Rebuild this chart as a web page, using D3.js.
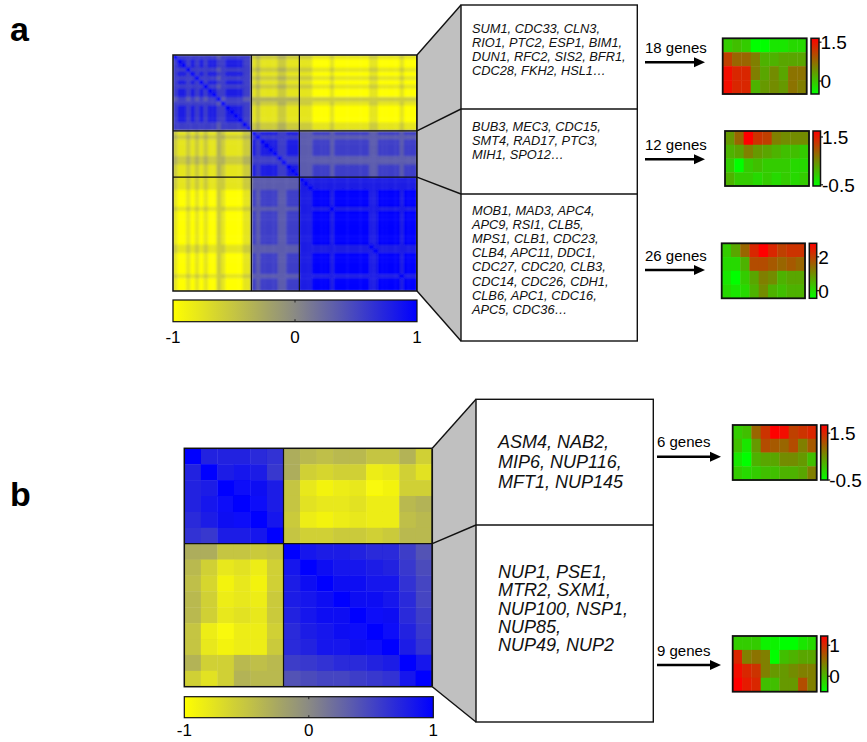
<!DOCTYPE html>
<html>
<head>
<meta charset="utf-8">
<script src="https://cdn.jsdelivr.net/npm/d3@7"></script>
<style>
  body { margin: 0; background: #fff; }
  svg { display: block; font-family: "Liberation Sans", Arial, sans-serif; }
</style>
</head>
<body>
<svg id="fig" width="867" height="742"></svg>
<script>
// ---------------- data ----------------

// panel a: gene-gene correlation map, 56 genes in three clusters.
// lower triangle, one string per row, digit code 0..9 -> -1..1 (spaces only split the clusters)
const corrBlocksA = [18, 11, 27];
const corrRowsA = [
  "",
  "7",
  "78",
  "777",
  "7887",
  "77777",
  "788787",
  "7777777",
  "78878787",
  "788787878",
  "6776767677",
  "77777777776",
  "788787878877",
  "7887878788778",
  "78878787887788",
  "788787878877888",
  "7777777777677777",
  "77777777776777777",
  "211212121132111122",
  "322323232233222233 7",
  "211212121132111122 87",
  "211212121132111122 878",
  "211212121132111122 8788",
  "211212121132111122 87888",
  "322323232233222233 777777",
  "322323232233222233 7777777",
  "211212121132111122 87888877",
  "211212121132111122 878888778",
  "211212121132111122 8788887788",
  "211212121122111122 66666666666",
  "211212121122111122 66666666666 8",
  "211212121122111122 66666666666 88",
  "100101010021000011 76777766777 888",
  "100101010021000011 76777766777 8889",
  "100101010021000011 76777766777 88899",
  "100101010021000011 76777766777 888999",
  "211212121122111122 66666666666 8888888",
  "100101010021000011 76777766777 88899998",
  "100101010021000011 76777766777 888999989",
  "100101010021000011 76777766777 8889999899",
  "100101010021000011 76777766777 88899998999",
  "100101010021000011 76777766777 888999989999",
  "100101010021000011 76777766777 8889999899999",
  "100101010021000011 76777766777 88899998999999",
  "100101010021000011 76777766777 888999989999999",
  "211212121122111122 66666666666 8888888888888888",
  "211212121122111122 66666666666 88888888888888888",
  "100101010021000011 76777766777 888999989999999988",
  "100101010021000011 76777766777 8889999899999999889",
  "100101010021000011 76777766777 88899998999999998899",
  "100101010021000011 76777766777 888999989999999988999",
  "100101010021000011 76777766777 8889999899999999889999",
  "211212121122111122 66666666666 88888888888888888888888",
  "100101010021000011 76777766777 888999989999999988999998",
  "100101010021000011 76777766777 8889999899999999889999989",
  "100101010021000011 76777766777 88899998999999998899999899"
];

// panel b: 15 nuclear pore genes, lower triangle of correlations
const corrBlocksB = [6, 9];
const corrRowsB = [
  [],
  [0.75],
  [0.75, 0.8],
  [0.75, 0.85, 0.95],
  [0.7, 0.8, 0.9, 0.95],
  [0.65, 0.6, 0.8, 0.8, 0.85],
  [-0.3, -0.3, -0.5, -0.5, -0.55, -0.5],
  [-0.4, -0.6, -0.8, -0.75, -0.85, -0.6, 0.85],
  [-0.45, -0.65, -0.9, -0.8, -0.9, -0.6, 0.8, 0.9],
  [-0.4, -0.6, -0.85, -0.8, -0.85, -0.55, 0.8, 0.85, 0.9],
  [-0.4, -0.6, -0.8, -0.75, -0.8, -0.55, 0.75, 0.85, 0.9, 0.9],
  [-0.5, -0.85, -0.95, -0.85, -0.85, -0.6, 0.7, 0.8, 0.85, 0.9, 0.95],
  [-0.5, -0.8, -0.9, -0.85, -0.85, -0.55, 0.7, 0.75, 0.85, 0.85, 0.9, 0.95],
  [-0.35, -0.6, -0.6, -0.4, -0.45, -0.4, 0.55, 0.6, 0.65, 0.7, 0.7, 0.75, 0.8],
  [-0.6, -0.75, -0.6, -0.35, -0.4, -0.4, 0.4, 0.45, 0.5, 0.5, 0.55, 0.6, 0.65, 0.85]
];

const corrTicks = [-1, 0, 1];

// gene lists shown in the boxes
const genesA = [
  ["SUM1, CDC33, CLN3,", "RIO1, PTC2, ESP1, BIM1,", "DUN1, RFC2, SIS2, BFR1,", "CDC28, FKH2, HSL1…"],
  ["BUB3, MEC3, CDC15,", "SMT4, RAD17, PTC3,", "MIH1, SPO12…"],
  ["MOB1, MAD3, APC4,", "APC9, RSI1, CLB5,", "MPS1, CLB1, CDC23,", "CLB4, APC11, DDC1,",
   "CDC27, CDC20, CLB3,", "CDC14, CDC26, CDH1,", "CLB6, APC1, CDC16,", "APC5, CDC36…"]
];
const genesB = [
  ["ASM4, NAB2,", "MIP6, NUP116,", "MFT1, NUP145"],
  ["NUP1, PSE1,", "MTR2, SXM1,", "NUP100, NSP1,", "NUP85,", "NUP49, NUP2"]
];

const clusterLabelsA = ["18 genes", "12 genes", "26 genes"];
const clusterLabelsB = ["6 genes", "9 genes"];

// mean expression profiles (4 rows x 9 time points)
const profileA18 = [
  [-0.07, 0.04, -0.07, -0.5, -0.5, -0.29, -0.29, -0.18, -0.18],
  [1.11, 0.79, 0.79, 0.58, 0.15, 0.15, 0.25, 0.25, 0.25],
  [1.54, 1.33, 1.33, 0.58, 0.25, 0.47, 0.25, 0.68, 0.68],
  [1.54, 1.33, 1.33, 0.15, 0.36, 0.47, 0.36, 0.68, 0.58]
];
const profileA12 = [
  [0.37, 0.83, 1.75, 1.29, 1.18, 0.6, 0.49, 0.49, 0.49],
  [0.14, 0.26, 0.6, 0.37, 0.26, 0.14, 0.03, 0.03, -0.09],
  [-0.09, -0.55, -0.09, 0.03, -0.09, -0.09, -0.09, -0.21, -0.21],
  [0.14, -0.09, -0.09, -0.21, -0.09, -0.21, -0.09, -0.21, -0.09]
];
const profileA26 = [
  [0.2, 0.69, 1.5, 2.31, 2.8, 2.31, 1.99, 2.15, 2.15],
  [0.04, 0.04, 0.53, 1.83, 1.83, 1.66, 1.5, 1.66, 1.5],
  [-0.13, -0.45, 0.2, 0.69, 1.18, 1.01, 0.53, 0.69, 0.69],
  [0.04, -0.13, 0.04, 0.53, 1.01, 0.53, 0.36, 0.53, 0.53]
];
const profileB6 = [
  [-0.03, 0.09, 0.91, 1.38, 1.85, 1.73, 1.26, 1.38, 1.5],
  [0.09, -0.27, 0.44, 1.15, 1.03, 0.91, 1.15, 0.68, 1.03],
  [-0.27, -0.5, 0.21, 0.32, 0.32, 0.56, 0.56, 0.44, 0.09],
  [-0.03, -0.15, -0.03, 0.09, 0.09, 0.21, 0.21, 0.32, 0.68]
];
const profileB9 = [
  [-0.14, -0.14, -0.14, -0.41, -0.41, -0.5, -0.5, -0.32, -0.23],
  [1.03, 0.4, 0.49, 0.4, -0.5, -0.05, 0.04, 0.13, 0.13],
  [1.21, 1.03, 0.94, 0.4, 0.22, 0.22, 0.31, 0.4, 0.4],
  [1.3, 1.12, 1.03, -0.05, -0.05, 0.22, 0.22, 0.76, 0.4]
];

const profileDomains = [[-0.5, 1.65], [-0.55, 1.75], [-0.45, 2.8], [-0.5, 1.85], [-0.5, 1.3]];
const profileTicks = [[1.5, 0], [1.5, -0.5], [2, 0], [1.5, -0.5], [1, 0]];

// ---------------- drawing ----------------

const svg = d3.select("#fig");
const defs = svg.append("defs");

const corrColor = d3.scaleLinear().domain([-1, 0, 1]).range(["#ffff00", "#8a8a84", "#0000ff"]);

// decode the digit rows of panel a
const corrA = corrRowsA.map(s => Array.from(s.replace(/ /g, ""), c => -1 + (+c) * 2 / 9));

function corrAt(rows, i, j) {
    if (i === j) return 1;
    return i > j ? rows[i][j] : rows[j][i];
}

function drawCorrMap(rows, blocks, L, id) {
    const n = rows.length;
    const idx = d3.range(n);
    const x = d3.scaleBand().domain(idx).range([L.x0, L.x1]);
    const y = d3.scaleBand().domain(idx).range([L.y0, L.y1]);
    const cells = [];
    idx.forEach(i => idx.forEach(j => cells.push({i: i, j: j, v: corrAt(rows, i, j)})));

    const g = svg.append("g");

    //the scanned map looks slightly smoothed, so soften the cells a touch inside a clip
    defs.append("clipPath").attr("id", "clip" + id)
        .append("rect").attr("x", L.x0).attr("y", L.y0).attr("width", L.x1 - L.x0).attr("height", L.y1 - L.y0);
    defs.append("filter").attr("id", "blur" + id).attr("x", "-5%").attr("y", "-5%").attr("width", "110%").attr("height", "110%")
        .append("feGaussianBlur").attr("stdDeviation", L.blur);
    g.append("g").attr("clip-path", "url(#clip" + id + ")")
        .append("g").attr("filter", L.blur > 0 ? "url(#blur" + id + ")" : null)
        .selectAll("rect.cell")
        .data(cells)
        .enter()
        .append("rect")
        .attr("class", "cell")
        .attr("x", d => x(d.j))
        .attr("y", d => y(d.i))
        .attr("width", x.bandwidth() + 0.4)
        .attr("height", y.bandwidth() + 0.4)
        .attr("fill", d => corrColor(d.v));

    //cluster boundaries
    let cum = 0;
    const cuts = [];
    blocks.slice(0, -1).forEach(b => { cum += b; cuts.push(cum); });
    cuts.forEach(c => {
        g.append("line").attr("x1", x(c)).attr("x2", x(c)).attr("y1", L.y0).attr("y2", L.y1)
            .attr("stroke", "#111").attr("stroke-width", 1.2);
        g.append("line").attr("x1", L.x0).attr("x2", L.x1).attr("y1", y(c)).attr("y2", y(c))
            .attr("stroke", "#111").attr("stroke-width", 1.2);
    });
    g.append("rect").attr("x", L.x0).attr("y", L.y0).attr("width", L.x1 - L.x0).attr("height", L.y1 - L.y0)
        .attr("fill", "none").attr("stroke", "#111").attr("stroke-width", 1.5);

    //colour bar
    const grad = defs.append("linearGradient").attr("id", "grad" + id);
    d3.range(0, 1.0001, 0.05).forEach(t => {
        grad.append("stop").attr("offset", t).attr("stop-color", corrColor(-1 + 2 * t));
    });
    const cx = d3.scaleLinear().domain([-1, 1]).range([L.x0, L.cbX1]);
    g.append("rect").attr("x", L.x0).attr("y", L.cbY0).attr("width", L.cbX1 - L.x0).attr("height", L.cbY1 - L.cbY0)
        .attr("fill", "url(#grad" + id + ")").attr("stroke", "#111").attr("stroke-width", 1.2);
    g.append("line").attr("x1", cx(0)).attr("x2", cx(0)).attr("y1", L.cbY0).attr("y2", L.cbY0 + 2.5)
        .attr("stroke", "#222").attr("stroke-width", 1);
    g.append("line").attr("x1", cx(0)).attr("x2", cx(0)).attr("y1", L.cbY1 - 2.5).attr("y2", L.cbY1)
        .attr("stroke", "#222").attr("stroke-width", 1);
    g.selectAll("text.cbl")
        .data(corrTicks)
        .enter()
        .append("text")
        .attr("x", d => cx(d))
        .attr("y", L.cbLabelY)
        .attr("text-anchor", "middle")
        .style("font-size", "17px")
        .text(d => d);

    //connector to the gene boxes
    const heatYs = [L.y0].concat(cuts.map(c => y(c)), [L.y1]);
    const boxYs = [L.boxY0].concat(L.dividers, [L.boxY1]);
    g.append("polygon")
        .attr("points", [[L.x1, L.y0], [L.boxX0, L.boxY0], [L.boxX0, L.boxY1], [L.x1, L.y1]].join(" "))
        .attr("fill", "#c0c0c0");
    heatYs.forEach((hy, k) => {
        g.append("line").attr("x1", L.x1).attr("y1", hy).attr("x2", L.boxX0).attr("y2", boxYs[k])
            .attr("stroke", "#111").attr("stroke-width", 1.4);
    });
    g.append("line").attr("x1", L.x1).attr("x2", L.x1).attr("y1", L.y0).attr("y2", L.y1)
        .attr("stroke", "#111").attr("stroke-width", 1.5);

    //gene boxes
    g.append("rect").attr("x", L.boxX0).attr("y", L.boxY0).attr("width", L.boxX1 - L.boxX0).attr("height", L.boxY1 - L.boxY0)
        .attr("fill", "#fff").attr("stroke", "#111").attr("stroke-width", 1.4);
    L.dividers.forEach(dv => {
        g.append("line").attr("x1", L.boxX0).attr("x2", L.boxX1).attr("y1", dv).attr("y2", dv)
            .attr("stroke", "#111").attr("stroke-width", 1.4);
    });
}

function drawGeneText(lists, T) {
    lists.forEach((lines, k) => {
        svg.append("g").selectAll("text")
            .data(lines)
            .enter()
            .append("text")
            .attr("x", T.x)
            .attr("y", (d, i) => T.first[k] + i * T.step[k])
            .style("font-size", T.size + "px")
            .style("font-style", "italic")
            .attr("fill", "#111")
            .text(d => d);
    });
}

function drawProfile(values, domain, ticks, label, P, id) {
    const g = svg.append("g");
    const x = d3.scaleBand().domain(d3.range(values[0].length)).range([P.x0, P.x1]);
    const y = d3.scaleBand().domain(d3.range(values.length)).range([P.y0, P.y1]);
    const color = d3.scaleLinear().domain(domain).range(["#00ff00", "#ff0000"]).clamp(true);
    const cells = [];
    values.forEach((row, r) => row.forEach((v, c) => cells.push({r: r, c: c, v: v})));
    g.selectAll("rect.pc")
        .data(cells)
        .enter()
        .append("rect")
        .attr("x", d => x(d.c))
        .attr("y", d => y(d.r))
        .attr("width", x.bandwidth() + 0.4)
        .attr("height", y.bandwidth() + 0.4)
        .attr("fill", d => color(d.v));
    g.append("rect").attr("x", P.x0).attr("y", P.y0).attr("width", P.x1 - P.x0).attr("height", P.y1 - P.y0)
        .attr("fill", "none").attr("stroke", "#111").attr("stroke-width", 1.8);

    //vertical colour bar
    const grad = defs.append("linearGradient").attr("id", id)
        .attr("x1", 0).attr("y1", 1).attr("x2", 0).attr("y2", 0);
    grad.append("stop").attr("offset", 0).attr("stop-color", color(domain[0]));
    grad.append("stop").attr("offset", 0.5).attr("stop-color", color((domain[0] + domain[1]) / 2));
    grad.append("stop").attr("offset", 1).attr("stop-color", color(domain[1]));
    const cy = d3.scaleLinear().domain(domain).range([P.y1, P.y0]);
    g.append("rect").attr("x", P.cb0).attr("y", P.y0).attr("width", P.cb1 - P.cb0).attr("height", P.y1 - P.y0)
        .attr("fill", "url(#" + id + ")").attr("stroke", "#111").attr("stroke-width", 1.5);
    g.selectAll("line.tk")
        .data(ticks)
        .enter()
        .append("line")
        .attr("x1", P.cb1).attr("x2", P.cb1 + 2.5)
        .attr("y1", d => cy(d)).attr("y2", d => cy(d))
        .attr("stroke", "#111").attr("stroke-width", 1.2);
    g.selectAll("text.tl")
        .data(ticks)
        .enter()
        .append("text")
        .attr("x", P.cb1 + 1.5)
        .attr("y", d => cy(d))
        .attr("dy", "0.36em")
        .style("font-size", "19px")
        .text(d => d);

    //arrow + gene count
    g.append("line").attr("x1", P.ax0).attr("x2", P.ax1 - 8).attr("y1", P.ay).attr("y2", P.ay)
        .attr("stroke", "#000").attr("stroke-width", 2.4);
    g.append("path")
        .attr("d", `M${P.ax1},${P.ay} L${P.ax1 - 11},${P.ay - 5} L${P.ax1 - 11},${P.ay + 5} Z`)
        .attr("fill", "#000");
    g.append("text").attr("x", P.ax0).attr("y", P.ay - 9.5)
        .style("font-size", "15px").text(label);
}

// ---------------- layout ----------------

const layoutA = {
    x0: 173, x1: 417, y0: 55, y1: 291, blur: 0.9,
    cbX1: 417, cbY0: 300, cbY1: 321.7, cbLabelY: 343,
    boxX0: 461, boxX1: 637.3, boxY0: 5, boxY1: 341, dividers: [109, 194]
};
const layoutB = {
    x0: 184.3, x1: 432.3, y0: 448.3, y1: 686.7, blur: 0.5,
    cbX1: 433.3, cbY0: 696.7, cbY1: 717.7, cbLabelY: 736,
    boxX0: 476, boxX1: 653.3, boxY0: 399.3, boxY1: 722, dividers: [525]
};

drawCorrMap(corrA, corrBlocksA, layoutA, "A");
drawCorrMap(corrRowsB, corrBlocksB, layoutB, "B");

drawGeneText(genesA, {x: 472, size: 12.8, first: [32.5, 131, 214.5], step: [14, 14, 14.2]});
drawGeneText(genesB, {x: 498, size: 18, first: [448, 578], step: [20, 18.3]});

const profileBoxes = [
    {x0: 722.7, x1: 806.7, y0: 38.3, y1: 94, cb0: 811, cb1: 819, ax0: 645, ax1: 705, ay: 62.3},
    {x0: 725, x1: 809, y0: 131, y1: 186, cb0: 813, cb1: 820.5, ax0: 645, ax1: 705, ay: 159.3},
    {x0: 721.7, x1: 805, y0: 243.3, y1: 298.3, cb0: 809.3, cb1: 816.7, ax0: 645, ax1: 705, ay: 270},
    {x0: 732.7, x1: 816.7, y0: 425, y1: 480, cb0: 820.7, cb1: 827.7, ax0: 657, ax1: 721, ay: 456.7},
    {x0: 732.7, x1: 816.7, y0: 636, y1: 691.7, cb0: 820.7, cb1: 827.7, ax0: 657, ax1: 721, ay: 665}
];
const profiles = [profileA18, profileA12, profileA26, profileB6, profileB9];
const profileLabels = clusterLabelsA.concat(clusterLabelsB);
profiles.forEach((p, k) => {
    drawProfile(p, profileDomains[k], profileTicks[k], profileLabels[k], profileBoxes[k], "pg" + k);
});

// panel letters
svg.append("text").attr("x", 10).attr("y", 41).style("font-size", "34px").style("font-weight", "bold").text("a");
svg.append("text").attr("x", 10).attr("y", 506).style("font-size", "34px").style("font-weight", "bold").text("b");
</script>
</body>
</html>
